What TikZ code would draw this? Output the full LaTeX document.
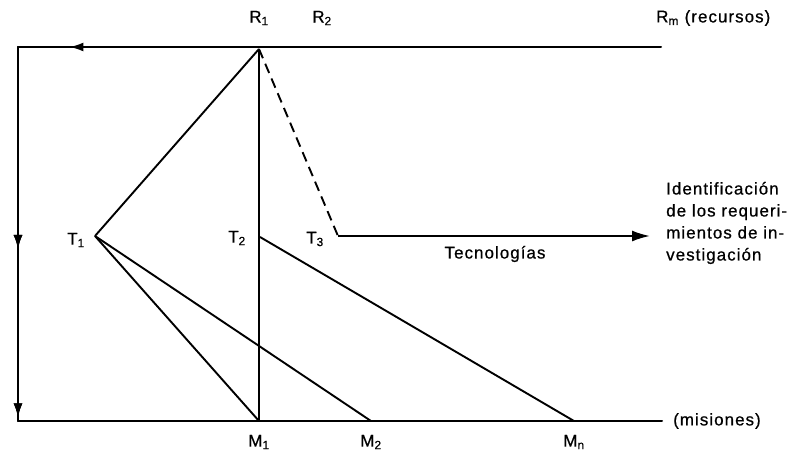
\documentclass[tikz,border=0pt]{standalone}
\usepackage{fontspec}
\setmainfont{Liberation Sans}[LetterSpace=6, FakeBold=0.6]
\usetikzlibrary{arrows.meta, decorations.markings}
\tikzset{
  %% ---- lines ----
  axis/.style   = {line width=2pt, line cap=round},
  link/.style   = {line width=1.9pt},
  dashlink/.style = {line width=1.9pt, dash pattern=on 10pt off 6pt},
  arr/.style    = {-{Latex[length=18pt, width=11pt]}, line width=1.9pt},
  midtip/.style = {postaction={decorate}, decoration={markings,
                   mark=at position #1 with {\arrow{Latex[length=14pt, width=9pt]}}}},
  %% ---- labels ----
  lbl/.style    = {font=\fontsize{17}{22}\selectfont, inner sep=1pt},
}
\begin{document}
\begin{tikzpicture}[x=1pt, y=-1pt]
\useasboundingbox (0,0) rectangle (793,452);
% frame points
\coordinate (ltop) at (18,47);
\coordinate (rtop) at (661,47);
\coordinate (lbot) at (18,421);
\coordinate (rbot) at (662,421);
% resources, technologies, missions
\coordinate (r1) at (259,49);
\coordinate (t1) at (95,236);
\coordinate (t2) at (260,237);
\coordinate (t3) at (338,236);
\coordinate (tend) at (650,236);
\coordinate (m1) at (259,421);
\coordinate (m2) at (371,421);
\coordinate (mn) at (574,421);

\draw[axis, midtip=0.92] (rtop) -- (ltop);
\draw[axis, midtip=0.54, midtip=0.99] (ltop) -- (lbot);
\draw[axis] (lbot) -- (rbot);

\draw[link] (t1) -- (r1);
\draw[link] (t1) -- (m1);
\draw[link] (t1) -- (m2);
\draw[link] (r1) -- (m1);
\draw[link] (t2) -- (mn);
\draw[dashlink] (r1) -- (t3);
\draw[arr] (t3) -- (tend);

\node[lbl] (lr1) at (259,18) {R\textsubscript{1}};
\node[lbl] (lr2) at (322,18) {R\textsubscript{2}};
\node[lbl, anchor=west] (lrm) at (655,18) {R\textsubscript{m} (recursos)};
\node[lbl] (lt1) at (76,240) {T\textsubscript{1}};
\node[lbl] (lt2) at (237,238) {T\textsubscript{2}};
\node[lbl] (lt3) at (315,239) {T\textsubscript{3}};
\node[lbl] (ltec) at (495,254) {Tecnologías};
\node[lbl, anchor=west, align=left] (lid) at (665,223)
  {Identificación\\de los requeri-\\mientos de in-\\vestigación};
\node[lbl] (lm1) at (259,442) {M\textsubscript{1}};
\node[lbl] (lm2) at (371,442) {M\textsubscript{2}};
\node[lbl] (lmn) at (574,442) {M\textsubscript{n}};
\node[lbl, anchor=west] (lmis) at (672,421) {(misiones)};
\end{tikzpicture}
\end{document}
